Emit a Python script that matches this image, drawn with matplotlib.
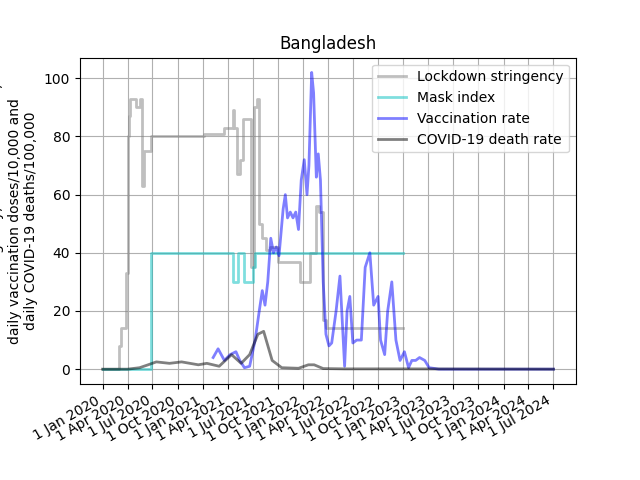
import numpy as np
import pandas as pd
import matplotlib
matplotlib.use("Agg")
import matplotlib.pyplot as plt
import matplotlib.dates as mdates

# Lockdown stringency (step series)
ls_dates = ["2020-01-01", "2020-03-01", "2020-03-08", "2020-03-24", "2020-03-27", "2020-04-01",
            "2020-04-05", "2020-04-10", "2020-05-01", "2020-05-15", "2020-05-25", "2020-06-01",
            "2020-06-10", "2020-06-25", "2020-08-01", "2021-01-05", "2021-03-20", "2021-04-20",
            "2021-04-25", "2021-05-05", "2021-05-15", "2021-05-25", "2021-06-25", "2021-07-05",
            "2021-07-15", "2021-07-25", "2021-08-05", "2021-08-20", "2021-09-01", "2021-10-01",
            "2021-11-01", "2021-12-20", "2022-01-25", "2022-02-15", "2022-03-01", "2022-03-15",
            "2022-03-25", "2023-01-01"]
ls_vals = [0, 8, 14, 14, 33, 80, 87, 93, 90, 93, 63, 75, 75, 80, 80, 81, 83, 89,
           83, 67, 72, 86, 35, 90, 93, 50, 45, 41, 42, 37, 37, 30, 40, 56, 54, 17, 14, 14]

# Mask index x10
mi_dates = ["2020-01-01", "2020-06-27", "2021-04-20", "2021-05-10", "2021-06-01",
            "2021-07-01", "2021-07-10", "2023-01-01"]
mi_vals = [0, 40, 30, 40, 30, 35, 40, 40]

# Vaccination doses /10,000
vr_dates = ["2021-02-07", "2021-02-25", "2021-03-20", "2021-04-10", "2021-05-01", "2021-05-15",
            "2021-06-01", "2021-06-20", "2021-07-10", "2021-07-25", "2021-08-05", "2021-08-15",
            "2021-08-25", "2021-09-05", "2021-09-15", "2021-09-25", "2021-10-05", "2021-10-20",
            "2021-10-28", "2021-11-05", "2021-11-15", "2021-11-25", "2021-12-05", "2021-12-15",
            "2021-12-25", "2022-01-05", "2022-01-15", "2022-01-22", "2022-02-01", "2022-02-08",
            "2022-02-18", "2022-02-25", "2022-03-05", "2022-03-15", "2022-03-25", "2022-04-05",
            "2022-04-15", "2022-05-01", "2022-05-15", "2022-06-01", "2022-06-10", "2022-06-20",
            "2022-07-01", "2022-07-15", "2022-08-01", "2022-08-15", "2022-09-01", "2022-09-15",
            "2022-10-01", "2022-10-10", "2022-10-25", "2022-11-05", "2022-11-20", "2022-12-05",
            "2022-12-20", "2023-01-05", "2023-01-20", "2023-02-01", "2023-02-15", "2023-03-01",
            "2023-03-20", "2023-04-05", "2023-04-20", "2023-05-10", "2023-06-10", "2023-06-25",
            "2023-07-05", "2023-07-25", "2023-08-10", "2023-09-01", "2024-07-01"]
vr_vals = [4, 7, 3, 5, 6, 3, 0.5, 1, 10, 20, 27, 22, 30, 45, 40, 42, 39, 55, 60,
           52, 54, 52, 54, 48, 65, 72, 60, 70, 102, 95, 66, 74, 65, 30, 12, 8,
           9, 20, 32, 1, 20, 25, 9, 10, 10, 35, 40, 22, 25, 10, 5, 20, 30, 10, 3,
           6, 0.5, 3, 3, 4, 3, 0.5, 0.3, 0, 0, 0, 0, 0, 0, 0, 0]

# COVID-19 deaths /100,000
dr_dates = ["2020-01-01", "2020-04-01", "2020-05-15", "2020-06-15", "2020-07-15", "2020-09-01",
            "2020-10-15", "2020-12-15", "2021-01-15", "2021-03-01", "2021-04-15", "2021-05-20",
            "2021-06-20", "2021-07-20", "2021-08-10", "2021-09-10", "2021-10-15", "2021-12-15",
            "2022-01-20", "2022-02-10", "2022-03-15", "2022-06-01", "2023-01-01", "2024-07-01"]
dr_vals = [0, 0, 0.5, 1.5, 2.5, 2, 2.5, 1.5, 2, 1, 5, 2, 5, 12, 13, 3, 0.5, 0.3,
           1.5, 1.5, 0.2, 0.1, 0.1, 0]

vr_t = pd.to_datetime(vr_dates)[:len(vr_vals)]
vr_v = vr_vals[:len(vr_t)]

fig, ax = plt.subplots(figsize=(6.4, 4.8))
ax.plot(pd.to_datetime(ls_dates), ls_vals, drawstyle="steps-post", color="gray", alpha=0.5,
        lw=2, label="Lockdown stringency")
ax.plot(pd.to_datetime(mi_dates), mi_vals, drawstyle="steps-post", color="c", alpha=0.5,
        lw=2, label="Mask index")
ax.plot(vr_t, vr_v, color="blue", alpha=0.5, lw=2, label="Vaccination rate")
ax.plot(pd.to_datetime(dr_dates), dr_vals, color="black", alpha=0.5, lw=2,
        label="COVID-19 death rate")

ax.xaxis.set_major_locator(mdates.MonthLocator(bymonth=[1, 4, 7, 10]))
ax.xaxis.set_major_formatter(mdates.DateFormatter("1 %b %Y"))
ax.set_ylabel("Lockdown stringency, mask index $\\times$10,\n"
              "daily vaccination doses/10,000 and\ndaily COVID-19 deaths/100,000")
ax.set_title("Bangladesh")
ax.grid(True)
ax.legend(loc="upper right")
fig.autofmt_xdate()
fig.savefig("out.png", dpi=100)
